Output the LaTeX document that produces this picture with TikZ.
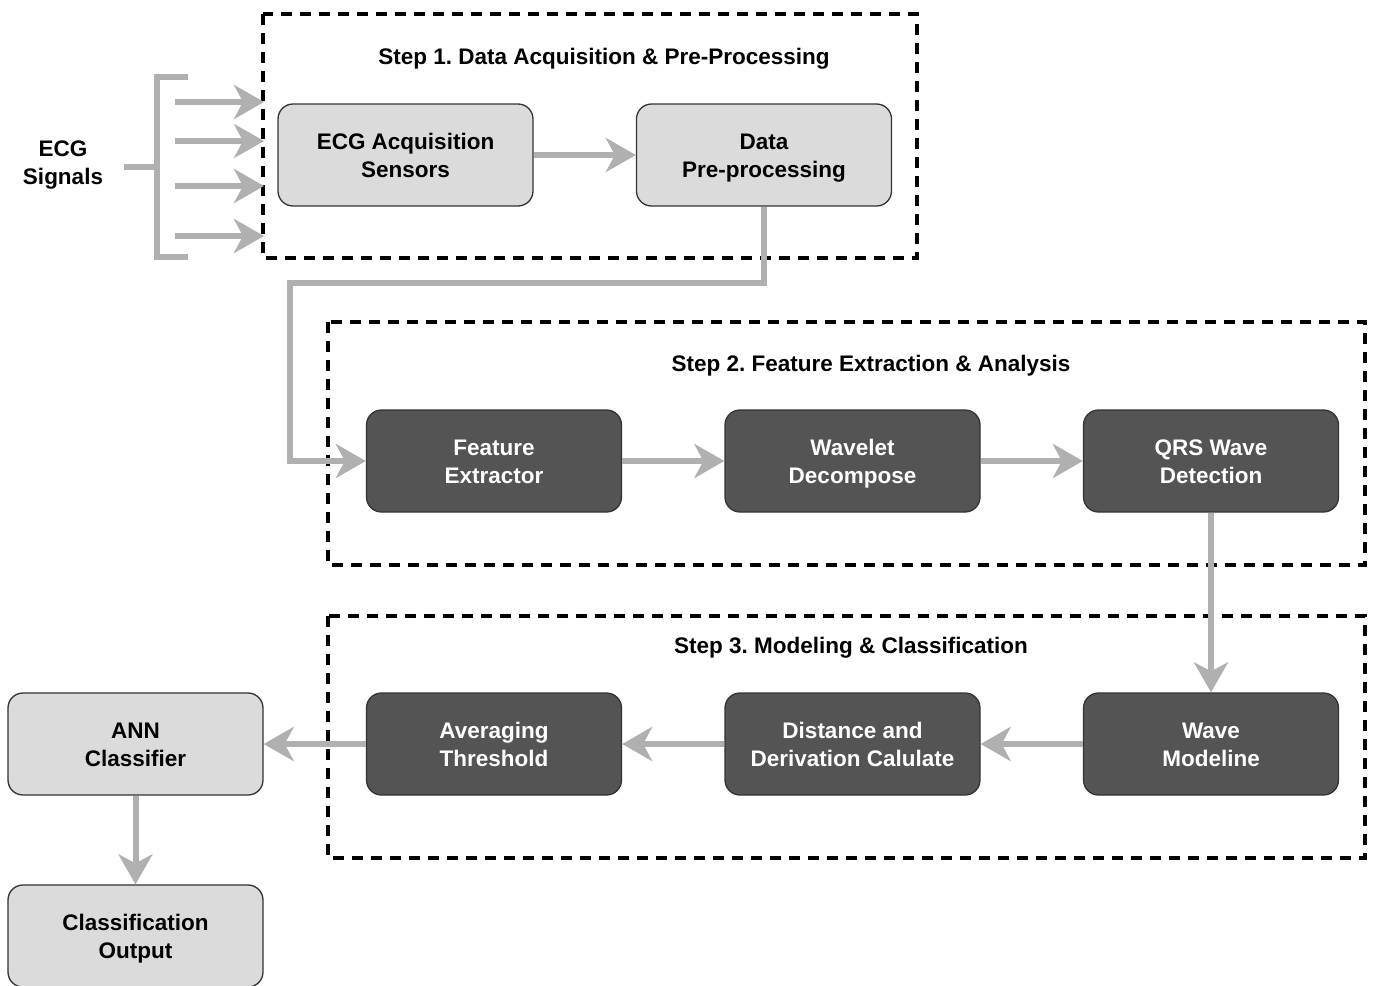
\documentclass[tikz,border=0pt]{standalone}
\usepackage{fontspec}
\setmainfont{Liberation Sans}
\usetikzlibrary{arrows.meta}
\definecolor{lightfill}{HTML}{DBDBDB}
\definecolor{darkfill}{HTML}{545454}
\definecolor{arrowgray}{HTML}{B0B0B0}
\definecolor{edgegray}{HTML}{333333}
\frenchspacing
\begin{document}
\begin{tikzpicture}[x=1pt,y=-1pt,
  box/.style={draw=edgegray, line width=1.3pt, rounded corners=15pt,
    minimum width=255pt, minimum height=102pt, inner sep=0pt, align=center,
    font=\fontsize{22.5}{28}\selectfont\bfseries,
    execute at begin node=\rule{0pt}{53pt}, execute at end node=\strut},
  lightbox/.style={box, fill=lightfill, text=black},
  darkbox/.style={box, fill=darkfill, text=white},
  flow/.style={draw=arrowgray, line width=6pt,
    -{Stealth[length=30pt,width=34pt,inset=9pt]}},
  feed/.style={draw=arrowgray, line width=6pt},
  stage/.style={draw=black, line width=3.5pt, dash pattern=on 11pt off 8pt},
  stagetitle/.style={font=\fontsize{22.5}{28}\selectfont\bfseries, inner sep=0pt}
]
\useasboundingbox (0,0) rectangle (1375,985);

% stage frames
\draw[stage] (263,14) rectangle (917,258);
\draw[stage] (328,322) rectangle (1365,565);
\draw[stage] (328,616) rectangle (1365,858);
\node[stagetitle] (t1) at (604,59) {Step 1. Data Acquisition \& Pre-Processing};
\node[stagetitle] (t2) at (871,366) {Step 2. Feature Extraction \& Analysis};
\node[stagetitle] (t3) at (851,648) {Step 3. Modeling \& Classification};

% input signals
\node[stagetitle, align=center] (ecg) at (63,165) {ECG\\Signals};
\coordinate (stub) at (124,167);
\coordinate (bk) at (157,167);
\coordinate (bt) at (157,77);
\coordinate (bb) at (157,257);
\coordinate (btr) at (188,77);
\coordinate (bbr) at (188,257);
\draw[feed] (btr) -- (bt) -- (bb) -- (bbr);
\draw[feed] (stub) -- (bk);
\foreach \i/\yy in {1/102,2/141,3/186,4/236}{
  \coordinate (s\i) at (175,\yy);
  \coordinate (e\i) at (264,\yy);
  \draw[flow] (s\i) -- (e\i);
}

% processing blocks
\node[lightbox] (acq) at (405.5,155) {ECG Acquisition\\Sensors};
\node[lightbox] (pre) at (764,155) {Data\\Pre-processing};
\node[darkbox] (fe) at (494,461) {Feature\\Extractor};
\node[darkbox] (wd) at (852.5,461) {Wavelet\\Decompose};
\node[darkbox] (qrs) at (1211,461) {QRS Wave\\Detection};
\node[darkbox] (wm) at (1211,744) {Wave\\Modeline};
\node[darkbox] (dd) at (852.5,744) {Distance and\\Derivation Calulate};
\node[darkbox] (avg) at (494,744) {Averaging\\Threshold};
\node[lightbox] (ann) at (135.5,744) {ANN\\Classifier};
\node[lightbox] (out) at (135.5,936) {Classification\\Output};

% flow connectors
\coordinate (bend) at (290,283);
\draw[flow] (acq) -- (pre);
\draw[flow] (pre.south) |- (bend) |- (fe.west);
\draw[flow] (fe) -- (wd);
\draw[flow] (wd) -- (qrs);
\draw[flow] (qrs) -- (wm);
\draw[flow] (wm) -- (dd);
\draw[flow] (dd) -- (avg);
\draw[flow] (avg) -- (ann);
\draw[flow] (ann) -- (out);
\end{tikzpicture}
\end{document}
